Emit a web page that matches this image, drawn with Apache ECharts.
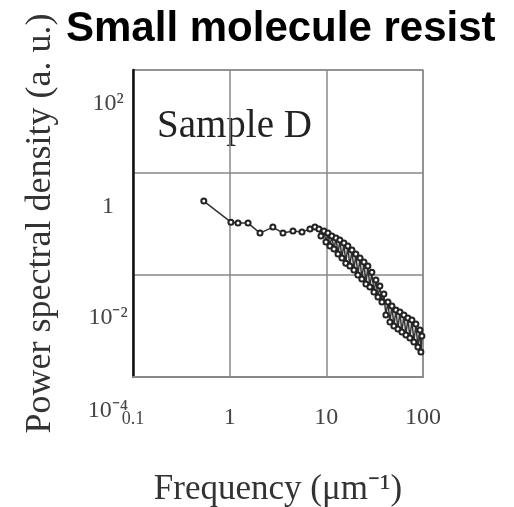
<!DOCTYPE html>
<html>
<head>
<meta charset="utf-8">
<script src="https://cdn.jsdelivr.net/npm/echarts@6/dist/echarts.min.js"></script>
<style>
html,body{margin:0;padding:0;background:#fff;}
#c{width:514px;height:507px;}
</style>
</head>
<body>
<div id="c"></div>
<script>
// Frequency (µm^-1) and power spectral density (a.u.)
const freq = [0.54, 1.03, 1.22, 1.55, 2.06, 2.80, 3.56, 4.52, 5.60, 6.77, 7.62,
  8.38, 8.80, 9.45, 9.91, 10.4, 10.9, 11.4, 12.0, 12.6, 13.2, 13.8, 14.5, 15.2, 15.9, 16.7, 17.5,
  18.4, 19.3, 20.2, 21.2, 22.3, 23.3, 24.5, 25.7, 26.9, 28.2, 29.6, 31.1, 32.6, 34.2, 35.8, 37.6,
  39.4, 41.3, 43.4, 45.5, 47.7, 50.0, 52.5, 55.0, 57.7, 60.5, 63.5, 66.6, 69.8, 73.2, 76.8, 80.5,
  84.5, 88.6, 92.9, 95.1, 97.4];
const psd = [0.274, 0.106, 0.102, 0.102, 0.065, 0.085, 0.065, 0.071, 0.068, 0.078, 0.085,
  0.0777, 0.0567, 0.0710, 0.0433, 0.0649, 0.0362, 0.0567, 0.0316, 0.0519, 0.0253, 0.0474, 0.0211,
  0.0414, 0.0168, 0.0362, 0.0147, 0.0302, 0.0123, 0.0253, 0.00982, 0.0211, 0.00821, 0.0176, 0.00655,
  0.0147, 0.00573, 0.0112, 0.00457, 0.00784, 0.00365, 0.00599, 0.00292, 0.00418, 0.00163, 0.00292,
  0.00119, 0.00244, 0.00099, 0.00203, 0.000866, 0.00186, 0.000757, 0.00163, 0.000661, 0.00142,
  0.000578, 0.0013, 0.000483, 0.00108, 0.000386, 0.000828, 0.000308, 0.000632];

// Tick labels (keyed by log10 of the tick value)
const xTickLabels = {'-1': '{s|0.1}', '0': '1', '1': '10', '2': '100'};
const yTickLabels = {'-4': '10⁻⁴', '-2': '{d|10⁻²}', '0': '1', '2': '10²'};

const titleText = 'Small molecule resist';
const sampleText = 'Sample D';
const xName = 'Frequency (μm⁻¹)';
const yName = 'Power spectral density (a. u.)';

const seriesData = freq.map((f, i) => [Math.log10(f), Math.log10(psd[i])]);

const chart = echarts.init(document.getElementById('c'), null, {renderer: 'canvas'});
const serif = 'Liberation Serif';
chart.setOption({
  animation: false,
  backgroundColor: '#fff',
  title: {
    text: titleText, left: 61, top: 3,
    textStyle: {fontFamily: 'Liberation Sans', fontWeight: 'bold', fontSize: 42, color: '#000'}
  },
  grid: {left: 133, right: 91, top: 70, bottom: 130, show: true, borderColor: '#999', borderWidth: 1.5,
    containLabel: false, outerBoundsMode: 'none'},
  xAxis: {
    type: 'value', min: -1, max: 2, interval: 1,
    name: xName, nameLocation: 'middle', nameGap: 95,
    nameTextStyle: {fontFamily: serif, fontSize: 35, color: '#333'},
    axisLine: {show: true, onZero: false, lineStyle: {color: '#888', width: 2}},
    axisTick: {show: false},
    splitLine: {show: true, lineStyle: {color: '#888', width: 1.5}},
    axisLabel: {
      margin: 29, fontFamily: serif, fontSize: 24, color: '#444',
      rich: {s: {fontFamily: serif, fontSize: 18, color: '#444', padding: [4, 0, 0, 0]}},
      formatter: v => xTickLabels[String(Math.round(v))] || ''
    }
  },
  yAxis: {
    type: 'value', min: -4, max: 2, interval: 2,
    name: yName, nameLocation: 'middle', nameGap: 74, nameRotate: 90,
    nameTextStyle: {fontFamily: serif, fontSize: 36, color: '#333'},
    axisLine: {show: true, onZero: false, lineStyle: {color: '#111', width: 2.5}},
    axisTick: {show: false},
    splitLine: {show: true, lineStyle: {color: '#888', width: 1.5}},
    axisLabel: {
      margin: 25, align: 'center', verticalAlign: 'top', lineHeight: 68,
      fontFamily: serif, fontSize: 24, color: '#444',
      rich: {d: {fontFamily: serif, fontSize: 24, color: '#444', lineHeight: 68, padding: [18, 0, 0, 0]}},
      formatter: v => yTickLabels[String(Math.round(v))] || ''
    }
  },
  graphic: [{
    type: 'text', left: 157, top: 107,
    style: {text: sampleText, fontFamily: serif, fontSize: 39, fill: '#222'}
  }],
  series: [{
    type: 'line',
    data: seriesData,
    symbol: 'emptyCircle', symbolSize: 5, showAllSymbol: true,
    lineStyle: {color: '#333', width: 1.5},
    itemStyle: {color: '#222', borderWidth: 1.2}
  }]
});
</script>
</body>
</html>
